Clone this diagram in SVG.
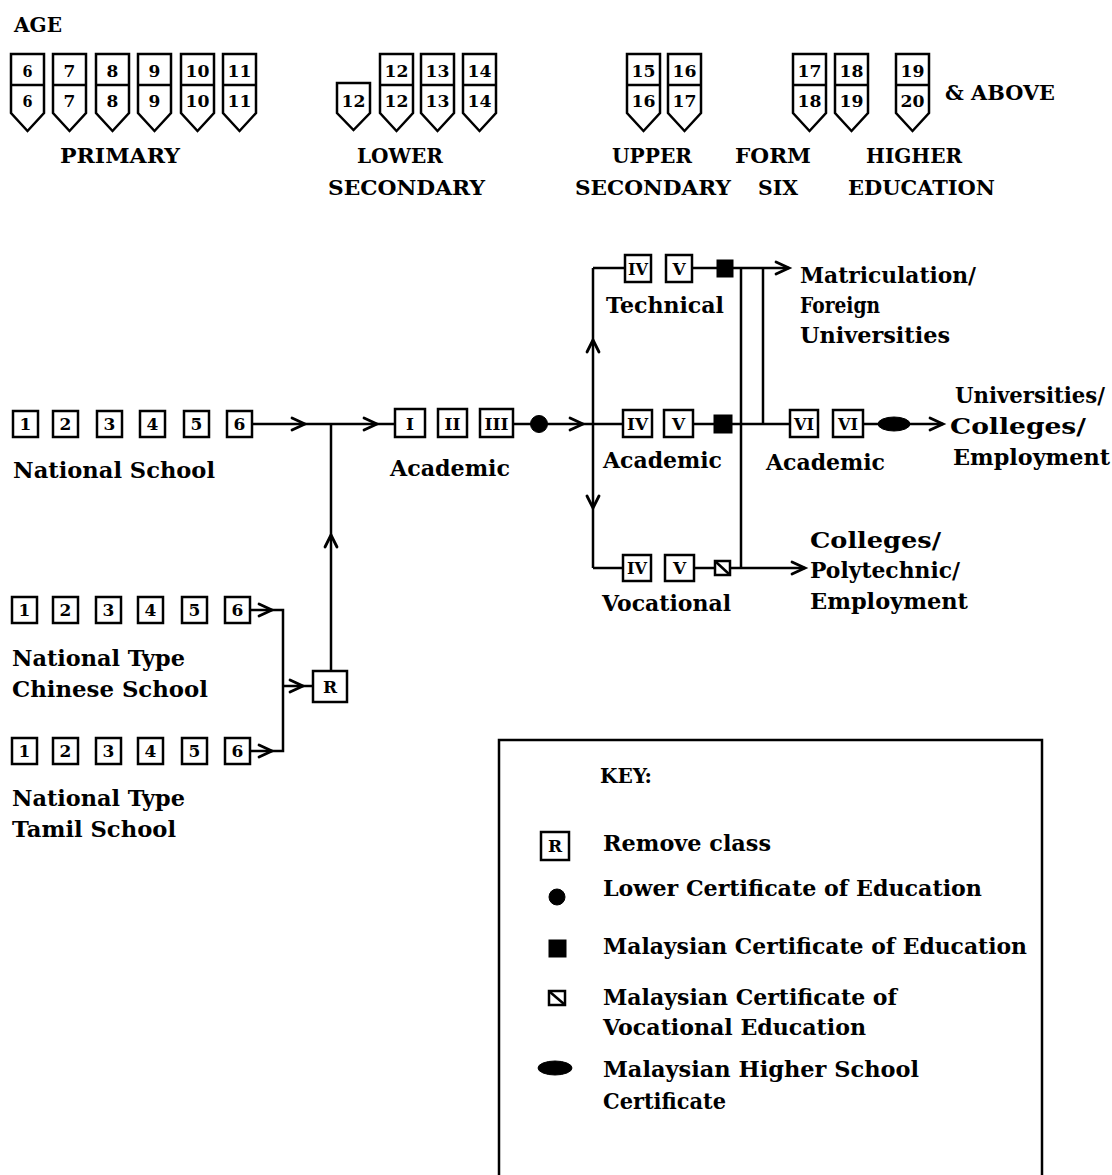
<svg xmlns="http://www.w3.org/2000/svg" xmlns:xlink="http://www.w3.org/1999/xlink" width="1112" height="1175" viewBox="0 0 1112 1175">
<style>
.h{font-family:"DejaVu Serif","Liberation Serif",serif;font-weight:bold;font-size:21px;fill:#000}
.t{font-family:"DejaVu Serif","Liberation Serif",serif;font-weight:bold;font-size:22px;fill:#000}
.n{font-family:"DejaVu Serif","Liberation Serif",serif;font-weight:bold;font-size:17px;text-anchor:middle;fill:#000}
.r{font-family:"DejaVu Serif","Liberation Serif",serif;font-weight:bold;font-size:17px;text-anchor:middle;fill:#000}
.box{fill:#fff;stroke:#000;stroke-width:2.5}
.ln{fill:none;stroke:#000;stroke-width:2.5}
.chev{fill:none;stroke:#000;stroke-width:2.8;stroke-linecap:round;stroke-linejoin:miter}
.blk{fill:#000;stroke:#000;stroke-width:1}
</style>
<defs>
<path id="sh" d="M0,0 H33 V59 L16.5,77 L0,59 Z M0,31 H33" fill="#fff" stroke="#000" stroke-width="2.5"/>
<path id="sh1" d="M0,0 H33 V30 L16.5,47 L0,30 Z" fill="#fff" stroke="#000" stroke-width="2.5"/>
</defs>
<rect width="1112" height="1175" fill="#fff"/>

<g id="age-scale">
<text class="h" x="14" y="32" textLength="48" lengthAdjust="spacingAndGlyphs">AGE</text>
<g id="age-primary">
<g transform="translate(11,54)"><use xlink:href="#sh"/><text class="n" x="16.5" y="23" textLength="10" lengthAdjust="spacingAndGlyphs">6</text><text class="n" x="16.5" y="53" textLength="10" lengthAdjust="spacingAndGlyphs">6</text></g>
<g transform="translate(53,54)"><use xlink:href="#sh"/><text class="n" x="16.5" y="23">7</text><text class="n" x="16.5" y="53">7</text></g>
<g transform="translate(96,54)"><use xlink:href="#sh"/><text class="n" x="16.5" y="23">8</text><text class="n" x="16.5" y="53">8</text></g>
<g transform="translate(138,54)"><use xlink:href="#sh"/><text class="n" x="16.5" y="23">9</text><text class="n" x="16.5" y="53">9</text></g>
<g transform="translate(181,54)"><use xlink:href="#sh"/><text class="n" x="16.5" y="23" textLength="24" lengthAdjust="spacingAndGlyphs">10</text><text class="n" x="16.5" y="53" textLength="24" lengthAdjust="spacingAndGlyphs">10</text></g>
<g transform="translate(223,54)"><use xlink:href="#sh"/><text class="n" x="16.5" y="23" textLength="24" lengthAdjust="spacingAndGlyphs">11</text><text class="n" x="16.5" y="53" textLength="24" lengthAdjust="spacingAndGlyphs">11</text></g>
<text class="h" x="60" y="163" textLength="120" lengthAdjust="spacingAndGlyphs">PRIMARY</text>
</g>
<g id="age-lower-secondary">
<g transform="translate(337,83)"><use xlink:href="#sh1"/><text class="n" x="16.5" y="24" textLength="24" lengthAdjust="spacingAndGlyphs">12</text></g>
<g transform="translate(380,54)"><use xlink:href="#sh"/><text class="n" x="16.5" y="23" textLength="24" lengthAdjust="spacingAndGlyphs">12</text><text class="n" x="16.5" y="53" textLength="24" lengthAdjust="spacingAndGlyphs">12</text></g>
<g transform="translate(421,54)"><use xlink:href="#sh"/><text class="n" x="16.5" y="23" textLength="24" lengthAdjust="spacingAndGlyphs">13</text><text class="n" x="16.5" y="53" textLength="24" lengthAdjust="spacingAndGlyphs">13</text></g>
<g transform="translate(463,54)"><use xlink:href="#sh"/><text class="n" x="16.5" y="23" textLength="24" lengthAdjust="spacingAndGlyphs">14</text><text class="n" x="16.5" y="53" textLength="24" lengthAdjust="spacingAndGlyphs">14</text></g>
<text class="h" x="357" y="163" textLength="86" lengthAdjust="spacingAndGlyphs">LOWER</text>
<text class="h" x="328" y="195" textLength="157" lengthAdjust="spacingAndGlyphs">SECONDARY</text>
</g>
<g id="age-upper-secondary">
<g transform="translate(627,54)"><use xlink:href="#sh"/><text class="n" x="16.5" y="23" textLength="24" lengthAdjust="spacingAndGlyphs">15</text><text class="n" x="16.5" y="53" textLength="24" lengthAdjust="spacingAndGlyphs">16</text></g>
<g transform="translate(668,54)"><use xlink:href="#sh"/><text class="n" x="16.5" y="23" textLength="24" lengthAdjust="spacingAndGlyphs">16</text><text class="n" x="16.5" y="53" textLength="24" lengthAdjust="spacingAndGlyphs">17</text></g>
<text class="h" x="612" y="163" textLength="80" lengthAdjust="spacingAndGlyphs">UPPER</text>
<text class="h" x="575" y="195" textLength="156" lengthAdjust="spacingAndGlyphs">SECONDARY</text>
</g>
<g id="age-form-six">
<g transform="translate(793,54)"><use xlink:href="#sh"/><text class="n" x="16.5" y="23" textLength="24" lengthAdjust="spacingAndGlyphs">17</text><text class="n" x="16.5" y="53" textLength="24" lengthAdjust="spacingAndGlyphs">18</text></g>
<g transform="translate(835,54)"><use xlink:href="#sh"/><text class="n" x="16.5" y="23" textLength="24" lengthAdjust="spacingAndGlyphs">18</text><text class="n" x="16.5" y="53" textLength="24" lengthAdjust="spacingAndGlyphs">19</text></g>
<text class="h" x="735" y="163" textLength="76" lengthAdjust="spacingAndGlyphs">FORM</text>
<text class="h" x="758" y="195" textLength="40" lengthAdjust="spacingAndGlyphs">SIX</text>
</g>
<g id="age-higher">
<g transform="translate(896,54)"><use xlink:href="#sh"/><text class="n" x="16.5" y="23" textLength="24" lengthAdjust="spacingAndGlyphs">19</text><text class="n" x="16.5" y="53" textLength="24" lengthAdjust="spacingAndGlyphs">20</text></g>
<text class="h" x="945" y="100" textLength="110" lengthAdjust="spacingAndGlyphs">&amp; ABOVE</text>
<text class="h" x="866" y="163" textLength="96" lengthAdjust="spacingAndGlyphs">HIGHER</text>
<text class="h" x="848" y="195" textLength="147" lengthAdjust="spacingAndGlyphs">EDUCATION</text>
</g>
</g>

<g id="connectors">
<path class="ln" d="M252,424 H395"/>
<path class="chev" d="M292,418 L305,424 L292,430"/>
<path class="chev" d="M364,418 L377,424 L364,430"/>
<path class="ln" d="M331,424 V670"/>
<path class="chev" d="M325,547 L331,535 L337,547"/>
<path class="ln" d="M513,424 H623"/>
<path class="chev" d="M570,418 L583,424 L570,430"/>
<path class="ln" d="M593,268 V568"/>
<path class="chev" d="M587,352 L593,340 L599,352"/>
<path class="chev" d="M587,496 L593,508 L599,496"/>
<path class="ln" d="M593,268 H625"/>
<path class="ln" d="M593,568 H623"/>
<path class="ln" d="M692,268 H789"/>
<path class="chev" d="M776,262 L789,268 L776,274"/>
<path class="ln" d="M741,268 V568"/>
<path class="ln" d="M763,268 V424"/>
<path class="ln" d="M693,424 H790"/>
<path class="ln" d="M863,424 H943"/>
<path class="chev" d="M930,418 L943,424 L930,430"/>
<path class="ln" d="M694,568 H805"/>
<path class="chev" d="M792,562 L805,568 L792,574"/>
<path class="ln" d="M250,610 H283 V751 H250"/>
<path class="chev" d="M259,604 L272,610 L259,616"/>
<path class="chev" d="M259,745 L272,751 L259,757"/>
<path class="ln" d="M283,686 H313"/>
<path class="chev" d="M290,680 L303,686 L290,692"/>
</g>

<g id="national-school">
<rect class="box" x="13" y="411" width="25" height="26"/><text class="n" x="25.5" y="430">1</text>
<rect class="box" x="53" y="411" width="25" height="26"/><text class="n" x="65.5" y="430">2</text>
<rect class="box" x="97" y="411" width="25" height="26"/><text class="n" x="109.5" y="430">3</text>
<rect class="box" x="140" y="411" width="25" height="26"/><text class="n" x="152.5" y="430">4</text>
<rect class="box" x="184" y="411" width="25" height="26"/><text class="n" x="196.5" y="430">5</text>
<rect class="box" x="227" y="411" width="25" height="26"/><text class="n" x="239.5" y="430">6</text>
<text class="t" x="13" y="478" textLength="202" lengthAdjust="spacingAndGlyphs">National School</text>
</g>

<g id="chinese-school">
<rect class="box" x="12" y="597" width="25" height="26"/><text class="n" x="24.5" y="616">1</text>
<rect class="box" x="53" y="597" width="25" height="26"/><text class="n" x="65.5" y="616">2</text>
<rect class="box" x="96" y="597" width="25" height="26"/><text class="n" x="108.5" y="616">3</text>
<rect class="box" x="138" y="597" width="25" height="26"/><text class="n" x="150.5" y="616">4</text>
<rect class="box" x="182" y="597" width="25" height="26"/><text class="n" x="194.5" y="616">5</text>
<rect class="box" x="225" y="597" width="25" height="26"/><text class="n" x="237.5" y="616">6</text>
<text class="t" x="12" y="666" textLength="173" lengthAdjust="spacingAndGlyphs">National Type</text>
<text class="t" x="12" y="697" textLength="196" lengthAdjust="spacingAndGlyphs">Chinese School</text>
</g>

<g id="tamil-school">
<rect class="box" x="12" y="738" width="25" height="26"/><text class="n" x="24.5" y="757">1</text>
<rect class="box" x="53" y="738" width="25" height="26"/><text class="n" x="65.5" y="757">2</text>
<rect class="box" x="96" y="738" width="25" height="26"/><text class="n" x="108.5" y="757">3</text>
<rect class="box" x="138" y="738" width="25" height="26"/><text class="n" x="150.5" y="757">4</text>
<rect class="box" x="182" y="738" width="25" height="26"/><text class="n" x="194.5" y="757">5</text>
<rect class="box" x="225" y="738" width="25" height="26"/><text class="n" x="237.5" y="757">6</text>
<text class="t" x="12" y="806" textLength="173" lengthAdjust="spacingAndGlyphs">National Type</text>
<text class="t" x="12" y="837" textLength="164" lengthAdjust="spacingAndGlyphs">Tamil School</text>
</g>

<g id="remove-class">
<rect class="box" x="313" y="671" width="34" height="31"/><text class="n" x="330" y="693">R</text>
</g>

<g id="lower-secondary-academic">
<rect class="box" x="395" y="409" width="30" height="28"/><text class="r" x="410" y="430">I</text>
<rect class="box" x="438" y="409" width="29" height="28"/><text class="r" x="452.5" y="430">II</text>
<rect class="box" x="480" y="409" width="33" height="28"/><text class="r" x="496.5" y="430" textLength="24" lengthAdjust="spacingAndGlyphs">III</text>
<circle class="blk" cx="539" cy="424" r="8.5"/>
<text class="t" x="390" y="476" textLength="120" lengthAdjust="spacingAndGlyphs">Academic</text>
</g>

<g id="upper-technical">
<rect class="box" x="625" y="255" width="26" height="27"/><text class="r" x="638" y="275" textLength="20" lengthAdjust="spacingAndGlyphs">IV</text>
<rect class="box" x="666" y="255" width="26" height="27"/><text class="r" x="679" y="275">V</text>
<rect class="blk" x="717" y="260" width="16" height="17"/>
<text class="t" x="606" y="313" textLength="118" lengthAdjust="spacingAndGlyphs">Technical</text>
</g>

<g id="matriculation">
<text class="t" x="800" y="283" textLength="176" lengthAdjust="spacingAndGlyphs">Matriculation/</text>
<text class="t" x="800" y="313" textLength="80" lengthAdjust="spacingAndGlyphs">Foreign</text>
<text class="t" x="800" y="343" textLength="150" lengthAdjust="spacingAndGlyphs">Universities</text>
</g>

<g id="upper-academic">
<rect class="box" x="623" y="410" width="29" height="27"/><text class="r" x="637.5" y="430" textLength="21" lengthAdjust="spacingAndGlyphs">IV</text>
<rect class="box" x="664" y="410" width="29" height="27"/><text class="r" x="678.5" y="430">V</text>
<rect class="blk" x="714" y="415" width="18" height="18"/>
<text class="t" x="603" y="468" textLength="119" lengthAdjust="spacingAndGlyphs">Academic</text>
</g>

<g id="form-six-academic">
<rect class="box" x="790" y="410" width="28" height="27"/><text class="r" x="804" y="430" textLength="20" lengthAdjust="spacingAndGlyphs">VI</text>
<rect class="box" x="833" y="410" width="30" height="27"/><text class="r" x="848" y="430" textLength="20" lengthAdjust="spacingAndGlyphs">VI</text>
<ellipse class="blk" cx="894" cy="424" rx="16" ry="7"/>
<text class="t" x="766" y="470" textLength="119" lengthAdjust="spacingAndGlyphs">Academic</text>
</g>

<g id="universities">
<text class="t" x="955" y="403" textLength="150" lengthAdjust="spacingAndGlyphs">Universities/</text>
<text class="t" x="950" y="434" textLength="136" lengthAdjust="spacingAndGlyphs">Colleges/</text>
<text class="t" x="953" y="465" textLength="157" lengthAdjust="spacingAndGlyphs">Employment</text>
</g>

<g id="upper-vocational">
<rect class="box" x="623" y="555" width="28" height="26"/><text class="r" x="637" y="574" textLength="20" lengthAdjust="spacingAndGlyphs">IV</text>
<rect class="box" x="665" y="555" width="29" height="26"/><text class="r" x="679.5" y="574">V</text>
<rect x="715" y="561" width="15" height="14" fill="#fff" stroke="#000" stroke-width="2.5"/>
<path class="ln" d="M716,562 L729,574" stroke-width="2"/>
<text class="t" x="602" y="611" textLength="129" lengthAdjust="spacingAndGlyphs">Vocational</text>
</g>

<g id="colleges-polytechnic">
<text class="t" x="810" y="548" textLength="131" lengthAdjust="spacingAndGlyphs">Colleges/</text>
<text class="t" x="810" y="578" textLength="150" lengthAdjust="spacingAndGlyphs">Polytechnic/</text>
<text class="t" x="810" y="609" textLength="158" lengthAdjust="spacingAndGlyphs">Employment</text>
</g>

<g id="key">
<rect x="499" y="740" width="543" height="480" fill="none" stroke="#000" stroke-width="2.5"/>
<text class="h" x="600" y="783" textLength="52" lengthAdjust="spacingAndGlyphs">KEY:</text>
<rect class="box" x="541" y="832" width="28" height="28"/><text class="n" x="555" y="852">R</text>
<text class="t" x="603" y="851" textLength="168" lengthAdjust="spacingAndGlyphs">Remove class</text>
<circle class="blk" cx="557" cy="897" r="8"/>
<text class="t" x="603" y="896" textLength="379" lengthAdjust="spacingAndGlyphs">Lower Certificate of Education</text>
<rect class="blk" x="549" y="940" width="17" height="17"/>
<text class="t" x="603" y="954" textLength="424" lengthAdjust="spacingAndGlyphs">Malaysian Certificate of Education</text>
<rect x="549" y="991" width="16" height="14" fill="#fff" stroke="#000" stroke-width="2.5"/>
<path class="ln" d="M550,992 L564,1004" stroke-width="2"/>
<text class="t" x="603" y="1005" textLength="294" lengthAdjust="spacingAndGlyphs">Malaysian Certificate of</text>
<text class="t" x="603" y="1035" textLength="263" lengthAdjust="spacingAndGlyphs">Vocational Education</text>
<ellipse class="blk" cx="555" cy="1068" rx="17" ry="7"/>
<text class="t" x="603" y="1077" textLength="316" lengthAdjust="spacingAndGlyphs">Malaysian Higher School</text>
<text class="t" x="603" y="1109" textLength="123" lengthAdjust="spacingAndGlyphs">Certificate</text>
</g>
</svg>
